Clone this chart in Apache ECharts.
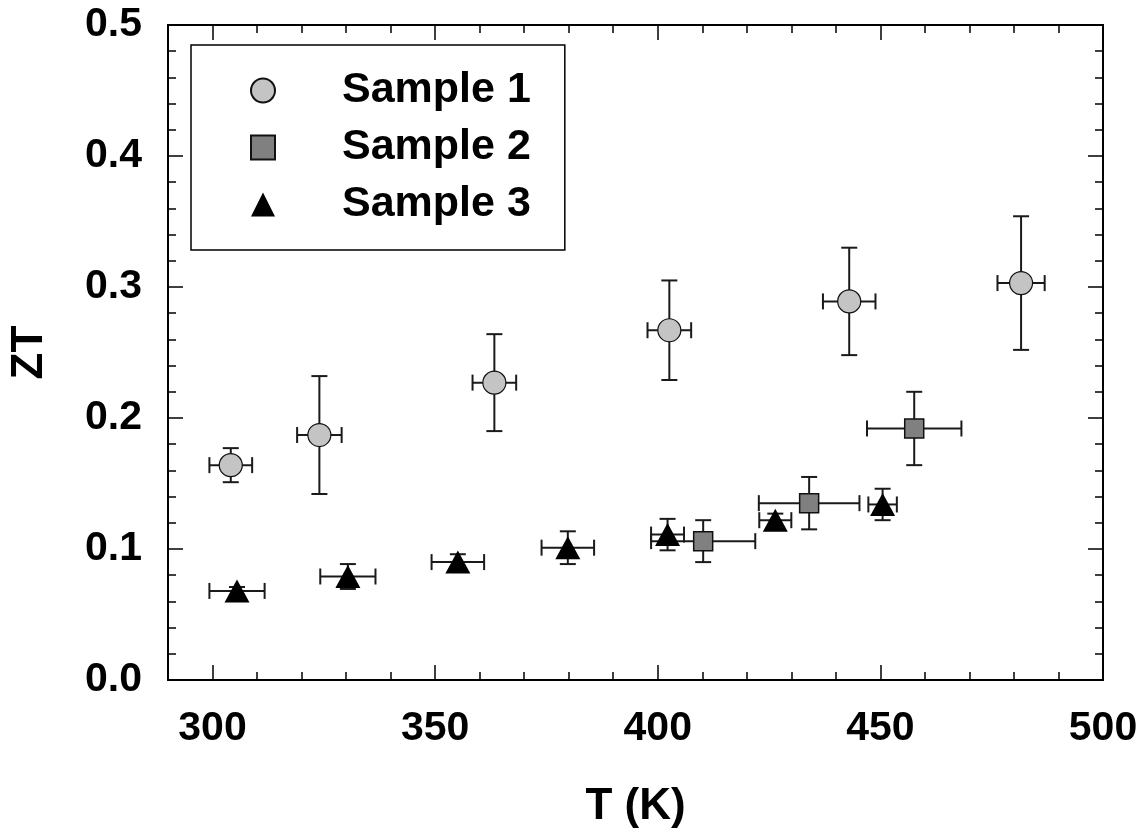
<!DOCTYPE html>
<html>
<head>
<meta charset="utf-8">
<script src="https://cdn.jsdelivr.net/npm/echarts@6/dist/echarts.min.js"></script>
<style>
  html, body { margin: 0; padding: 0; background: #fff; }
  #chart { width: 1146px; height: 836px; }
</style>
</head>
<body>
<div id="chart"></div>
<script>
// ---- data ----
const xTicks = [300, 350, 400, 450, 500];
const yTicks = [0, 0.1, 0.2, 0.3, 0.4, 0.5];
const seriesNames = ['Sample 1', 'Sample 2', 'Sample 3'];
const xTitle = 'T (K)';
const yTitle = 'ZT';

const s1T     = [304.1, 324.0, 363.3, 402.6, 443.0, 481.6];
const s1ZT    = [0.164, 0.187, 0.227, 0.267, 0.289, 0.303];
const s1TErr  = [4.8, 5.0, 4.9, 4.9, 5.9, 5.3];
const s1ZTErr = [0.013, 0.045, 0.037, 0.038, 0.041, 0.051];

const s2T     = [410.2, 434.0, 457.6];
const s2ZT    = [0.106, 0.135, 0.192];
const s2TErr  = [11.7, 11.3, 10.6];
const s2ZTErr = [0.016, 0.020, 0.028];

const s3T     = [305.5, 330.4, 355.1, 379.8, 402.2, 426.4, 450.5];
const s3ZT    = [0.068, 0.079, 0.090, 0.101, 0.111, 0.122, 0.134];
const s3TErr  = [6.2, 6.2, 5.9, 5.9, 3.7, 3.6, 3.2];
const s3ZTErr = [0.003, 0.0095, 0.006, 0.0125, 0.012, 0.005, 0.012];

// ---- build ----
const FONT = "'Liberation Sans', Arial, sans-serif";
function pts(t, z) { return t.map((v, i) => [v, z[i]]); }
function errs(t, z, et, ez) { return t.map((v, i) => [v, z[i], et[i], ez[i]]); }

function renderErr(params, api) {
  const x = api.value(0), y = api.value(1), ex = api.value(2), ey = api.value(3);
  const l = api.coord([x - ex, y]), r = api.coord([x + ex, y]);
  const t = api.coord([x, y + ey]), b = api.coord([x, y - ey]);
  const cap = 8;
  const style = { stroke: '#1a1a1a', lineWidth: 2, fill: null };
  const line = (x1, y1, x2, y2) => ({ type: 'line', shape: { x1, y1, x2, y2 }, style });
  return {
    type: 'group',
    children: [
      line(l[0], l[1], r[0], r[1]),
      line(l[0], l[1] - cap, l[0], l[1] + cap),
      line(r[0], r[1] - cap, r[0], r[1] + cap),
      line(t[0], t[1], b[0], b[1]),
      line(t[0] - cap, t[1], t[0] + cap, t[1]),
      line(b[0] - cap, b[1], b[0] + cap, b[1])
    ]
  };
}

const axisLineStyle = { color: '#000', width: 2 };
const labelStyle = { color: '#000', fontSize: 41, fontWeight: 'bold', fontFamily: FONT };

const option = {
  backgroundColor: '#fff',
  animation: false,
  grid: { left: 168, right: 43, top: 25, bottom: 156, containLabel: false },
  legend: {
    left: 191, top: 45,
    orient: 'vertical',
    data: [
      { name: seriesNames[0], icon: 'circle' },
      { name: seriesNames[1], icon: 'rect' },
      { name: seriesNames[2], icon: 'triangle' }
    ],
    itemWidth: 24, itemHeight: 24, itemGap: 12,
    padding: [23, 34, 23, 59],
    borderColor: '#000', borderWidth: 1.5, backgroundColor: '#fff',
    selectedMode: false,
    textStyle: { color: '#000', fontSize: 43, fontWeight: 'bold', fontFamily: FONT, lineHeight: 45, padding: [0, 0, 0, 62] }
  },
  xAxis: [
    {
      type: 'value', min: 290, max: 500, position: 'bottom',
      name: xTitle, nameLocation: 'middle', nameGap: 105,
      nameTextStyle: { color: '#000', fontSize: 44, fontWeight: 'bold', fontFamily: FONT },
      axisLine: { show: true, onZero: false, lineStyle: axisLineStyle },
      axisTick: { show: true, inside: true, length: 15, customValues: xTicks, lineStyle: { color: '#000', width: 1.5 } },
      axisLabel: { show: true, customValues: xTicks, margin: 28, ...labelStyle },
      splitLine: { show: false }
    },
    {
      type: 'value', min: 290, max: 500, interval: 10, position: 'bottom',
      axisLine: { show: true, onZero: false, lineStyle: axisLineStyle },
      axisTick: { show: true, inside: true, length: 8, lineStyle: { color: '#000', width: 1.5 } },
      axisLabel: { show: false },
      splitLine: { show: false }
    },
    {
      type: 'value', min: 290, max: 500, position: 'top',
      axisLine: { show: true, onZero: false, lineStyle: axisLineStyle },
      axisTick: { show: true, inside: true, length: 15, customValues: xTicks, lineStyle: { color: '#000', width: 1.5 } },
      axisLabel: { show: false },
      splitLine: { show: false }
    },
    {
      type: 'value', min: 290, max: 500, interval: 10, position: 'top',
      axisLine: { show: true, onZero: false, lineStyle: axisLineStyle },
      axisTick: { show: true, inside: true, length: 8, lineStyle: { color: '#000', width: 1.5 } },
      axisLabel: { show: false },
      splitLine: { show: false }
    }
  ],
  yAxis: [
    {
      type: 'value', min: yTicks[0], max: yTicks[yTicks.length - 1], interval: 0.1, position: 'left',
      name: yTitle, nameLocation: 'middle', nameGap: 116, nameRotate: 90,
      nameTextStyle: { color: '#000', fontSize: 44, fontWeight: 'bold', fontFamily: FONT },
      axisLine: { show: true, onZero: false, lineStyle: axisLineStyle },
      axisTick: { show: true, inside: true, length: 15, lineStyle: { color: '#000', width: 1.5 } },
      minorTick: { show: true, splitNumber: 5, length: 8, lineStyle: { color: '#000', width: 1.5 } },
      axisLabel: { show: true, margin: 26, formatter: v => v.toFixed(1), ...labelStyle },
      splitLine: { show: false }, minorSplitLine: { show: false }
    },
    {
      type: 'value', min: yTicks[0], max: yTicks[yTicks.length - 1], interval: 0.1, position: 'right',
      axisLine: { show: true, onZero: false, lineStyle: axisLineStyle },
      axisTick: { show: true, inside: true, length: 15, lineStyle: { color: '#000', width: 1.5 } },
      minorTick: { show: true, splitNumber: 5, length: 8, lineStyle: { color: '#000', width: 1.5 } },
      axisLabel: { show: false },
      splitLine: { show: false }, minorSplitLine: { show: false }
    }
  ],
  series: [
    { type: 'custom', name: 'err1', xAxisIndex: 0, yAxisIndex: 0, z: 1, renderItem: renderErr,
      encode: { x: 0, y: 1 }, data: errs(s1T, s1ZT, s1TErr, s1ZTErr) },
    { type: 'custom', name: 'err3', xAxisIndex: 0, yAxisIndex: 0, z: 1, renderItem: renderErr,
      encode: { x: 0, y: 1 }, data: errs(s3T, s3ZT, s3TErr, s3ZTErr) },
    { type: 'custom', name: 'err2', xAxisIndex: 0, yAxisIndex: 0, z: 1, renderItem: renderErr,
      encode: { x: 0, y: 1 }, data: errs(s2T, s2ZT, s2TErr, s2ZTErr) },
    { type: 'scatter', name: seriesNames[0], xAxisIndex: 0, yAxisIndex: 0, z: 3,
      symbol: 'circle', symbolSize: 23,
      itemStyle: { color: '#c4c4c4', borderColor: '#111', borderWidth: 1.2, opacity: 1 },
      data: pts(s1T, s1ZT) },
    { type: 'scatter', name: seriesNames[2], xAxisIndex: 0, yAxisIndex: 0, z: 3,
      symbol: 'triangle', symbolSize: [25, 23],
      itemStyle: { color: '#000', borderColor: '#000', borderWidth: 0, opacity: 1 },
      data: pts(s3T, s3ZT) },
    { type: 'scatter', name: seriesNames[1], xAxisIndex: 0, yAxisIndex: 0, z: 4,
      symbol: 'rect', symbolSize: 19,
      itemStyle: { color: '#808080', borderColor: '#111', borderWidth: 1.5, opacity: 1 },
      data: pts(s2T, s2ZT) }
  ]
};

const chart = echarts.init(document.getElementById('chart'), null, { renderer: 'canvas' });
chart.setOption(option);
</script>
</body>
</html>
